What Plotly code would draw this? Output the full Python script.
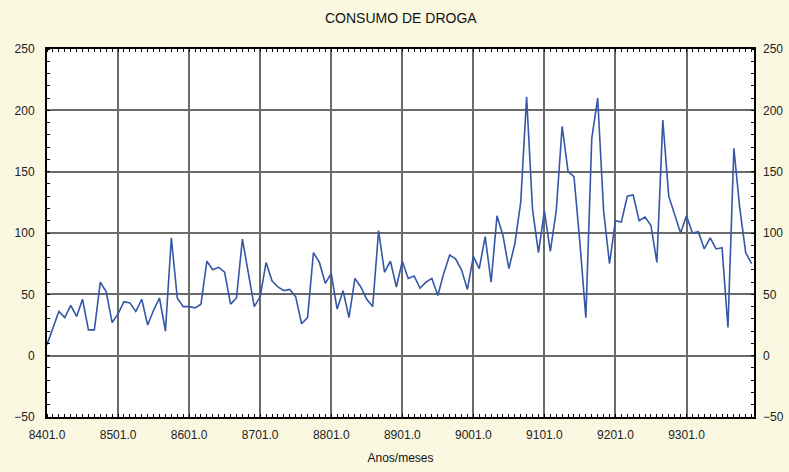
import plotly.graph_objects as go

# Monthly drug consumption, January 1984 (8401) through December 1993 (9312)
consumo = [
    9, 23, 36, 31, 41, 32, 46, 21, 21, 60, 52, 27,
    34, 44, 43, 36, 46, 25, 37, 47, 20, 96, 47, 40,
    40, 39, 42, 77, 70, 72, 68, 42, 47, 95, 66, 40,
    48, 76, 61, 56, 53, 54, 48, 26, 31, 84, 76, 59,
    67, 38, 53, 31, 63, 56, 46, 40, 102, 68, 77, 56,
    77, 63, 65, 55, 60, 63, 49, 67, 82, 79, 70, 54,
    81, 71, 97, 60, 114, 98, 71, 91, 125, 211, 119, 84,
    118, 85, 118, 187, 150, 146, 92, 31, 177, 210, 118, 75,
    110, 109, 130, 131, 110, 113, 106, 76, 192, 130, 115, 100,
    114, 100, 101, 87, 96, 87, 88, 23, 169, 120, 84, 75,
]
meses = list(range(len(consumo)))

# One labelled tick at each January
tick_pos = [0, 12, 24, 36, 48, 60, 72, 84, 96, 108]
tick_text = ["8401.0", "8501.0", "8601.0", "8701.0", "8801.0",
             "8901.0", "9001.0", "9101.0", "9201.0", "9301.0"]
y_ticks = [-50, 0, 50, 100, 150, 200, 250]

font_family = "Liberation Sans, Arial, sans-serif"
grid_color = "#6a6a6a"

fig = go.Figure()
fig.add_trace(go.Scatter(
    x=meses, y=consumo, mode="lines",
    line=dict(color="#3457a8", width=1.6),
    showlegend=False, hoverinfo="x+y",
))
# Empty trace so the right-hand value axis is drawn
fig.add_trace(go.Scatter(x=[None], y=[None], yaxis="y2",
                         showlegend=False, hoverinfo="skip"))

fig.update_layout(
    width=789, height=472,
    paper_bgcolor="#fbf8e2",
    plot_bgcolor="#ffffff",
    margin=dict(l=47, r=35, t=49, b=55),
    font=dict(family=font_family, size=12, color="#222222"),
    title=dict(text="CONSUMO DE DROGA", x=0.508, xanchor="center",
               y=0.962, yanchor="middle",
               font=dict(family=font_family, size=14, color="#111111")),
    xaxis=dict(
        range=[0, 119.4], automargin=False,
        tickvals=tick_pos, ticktext=tick_text,
        showgrid=True, gridcolor=grid_color, gridwidth=1.5,
        zeroline=False,
        showline=True, linecolor="#000000", linewidth=2, mirror="allticks",
        ticks="", ticklen=0, ticklabelstandoff=6,
        minor=dict(dtick=1, tick0=0, ticks="inside", ticklen=3,
                   tickcolor="#000000", tickwidth=1, showgrid=False),
        title=dict(text="Anos/meses", standoff=12,
                   font=dict(family=font_family, size=12, color="#111111")),
        tickfont=dict(size=12),
    ),
    yaxis=dict(
        range=[-50, 250], tickvals=y_ticks, automargin=False,
        showgrid=True, gridcolor=grid_color, gridwidth=1.5,
        zeroline=False,
        showline=True, linecolor="#000000", linewidth=2, mirror="allticks",
        ticks="", ticklen=0, ticklabelstandoff=8,
        minor=dict(dtick=10, tick0=0, ticks="inside", ticklen=3,
                   tickcolor="#000000", tickwidth=1, showgrid=False),
        tickfont=dict(size=12),
    ),
    yaxis2=dict(
        range=[-50, 250], tickvals=y_ticks, automargin=False,
        overlaying="y", side="right",
        showgrid=False, zeroline=False, showline=False,
        ticks="", ticklabelstandoff=8, tickfont=dict(size=12),
    ),
)

fig.write_html("out.html")
